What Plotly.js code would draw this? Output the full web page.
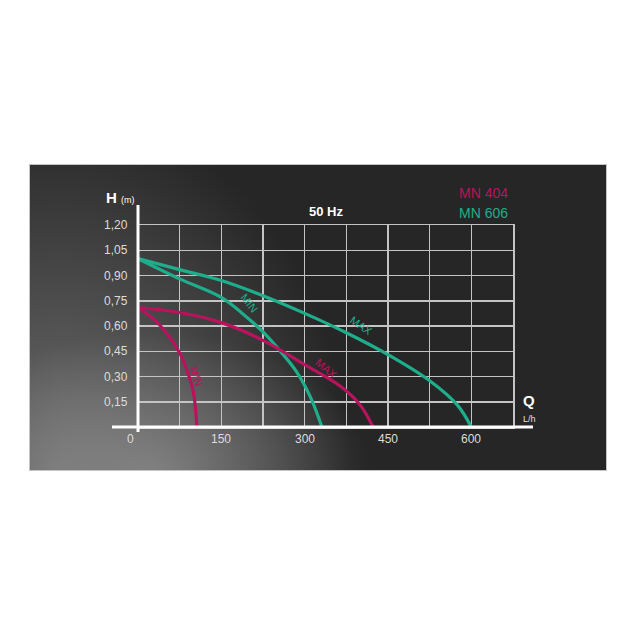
<!DOCTYPE html>
<html>
<head>
<meta charset="utf-8">
<script src="https://cdn.plot.ly/plotly-3.0.1.min.js"></script>
<style>
  html, body { margin: 0; padding: 0; background: #ffffff; }
  #wrap { position: relative; width: 636px; height: 636px; }
  #bg {
    position: absolute; left: 29px; top: 164px; width: 578px; height: 307px;
    background:
      radial-gradient(ellipse 220px 140px at 120px 307px, rgba(150,150,150,0.65) 0%, rgba(150,150,150,0) 100%),
      radial-gradient(ellipse 290px 360px at 30px 307px, #707070 0%, #474747 55%, #262626 100%);
    background-color: #262626;
    border: 1px solid #c4c4c4;
    box-sizing: border-box;
  }
  #chart { position: absolute; left: 0; top: 0; width: 636px; height: 636px; }
</style>
</head>
<body>
<div id="wrap">
  <div id="bg"></div>
  <div id="chart"></div>
</div>
<script>
// ---- data ----
const xGrid = [0, 75, 150, 225, 300, 375, 450, 525, 600, 675];
const xTickVals = [0, 150, 300, 450, 600];
const xTickText = ['0', '150', '300', '450', '600'];
const yTickVals = [0.15, 0.30, 0.45, 0.60, 0.75, 0.90, 1.05, 1.20];
const yTickText = ['0,15', '0,30', '0,45', '0,60', '0,75', '0,90', '1,05', '1,20'];

const q606max = [0, 75, 150, 225, 300, 375, 450, 525, 575, 600];
const h606max = [1.00, 0.935, 0.87, 0.78, 0.675, 0.56, 0.43, 0.275, 0.13, 0];
const q606min = [0, 75, 150, 200, 225, 255, 285, 310, 331];
const h606min = [1.00, 0.88, 0.77, 0.64, 0.565, 0.455, 0.33, 0.18, 0];
const q404max = [0, 75, 150, 225, 300, 365, 400, 423];
const h404max = [0.71, 0.68, 0.62, 0.515, 0.37, 0.24, 0.13, 0];
const q404min = [0, 25, 50, 75, 90, 100, 106];
const h404min = [0.71, 0.65, 0.565, 0.44, 0.32, 0.2, 0];

const TEAL = '#1fae8c';
const MAGENTA = '#b8145e';
const FONT = 'Liberation Sans, Arial, sans-serif';

const traces = [
  {x: q606max, y: h606max, name: 'MN 606 MAX', color: TEAL},
  {x: q606min, y: h606min, name: 'MN 606 MIN', color: TEAL},
  {x: q404max, y: h404max, name: 'MN 404 MAX', color: MAGENTA},
  {x: q404min, y: h404min, name: 'MN 404 MIN', color: MAGENTA}
].map(t => ({
  type: 'scatter', mode: 'lines', x: t.x, y: t.y, name: t.name,
  line: {color: t.color, width: 3.2, shape: 'spline', smoothing: 1},
  hoverinfo: 'skip', showlegend: false
}));

const annotations = [];
yTickVals.forEach((v, i) => annotations.push({
  xref: 'paper', yref: 'y', x: 0, y: v, xanchor: 'right', yanchor: 'middle',
  xshift: -8, text: yTickText[i], showarrow: false,
  font: {family: FONT, size: 12, color: '#dcdcdc'}
}));
xTickVals.forEach((v, i) => annotations.push({
  xref: 'x', yref: 'paper', x: v, y: 0, xanchor: 'center', yanchor: 'top',
  yshift: -3, xshift: v === 0 ? -8 : 0, text: xTickText[i], showarrow: false,
  font: {family: FONT, size: 12, color: '#dcdcdc'}
}));
// axis titles, chart title, legend labels
annotations.push(
  {xref: 'paper', yref: 'paper', x: -0.09, y: 1.135, xanchor: 'left', yanchor: 'middle',
   text: '<b>H</b> <span style="font-size:9px">(m)</span>', showarrow: false,
   font: {family: FONT, size: 15, color: '#ffffff'}},
  {xref: 'paper', yref: 'paper', x: 1.02, y: 0.13, xanchor: 'left', yanchor: 'middle',
   text: '<b>Q</b>', showarrow: false, font: {family: FONT, size: 15, color: '#ffffff'}},
  {xref: 'paper', yref: 'paper', x: 1.02, y: 0.04, xanchor: 'left', yanchor: 'middle',
   text: 'L/h', showarrow: false, font: {family: FONT, size: 9, color: '#e0e0e0'}},
  {xref: 'paper', yref: 'paper', x: 0.5, y: 1.065, xanchor: 'center', yanchor: 'middle',
   text: '<b>50 Hz</b>', showarrow: false, font: {family: FONT, size: 13, color: '#ffffff'}},
  {xref: 'paper', yref: 'paper', x: 0.851, y: 1.158, xanchor: 'left', yanchor: 'middle',
   text: 'MN 404', showarrow: false, font: {family: FONT, size: 14, color: MAGENTA}},
  {xref: 'paper', yref: 'paper', x: 0.851, y: 1.059, xanchor: 'left', yanchor: 'middle',
   text: 'MN 606', showarrow: false, font: {family: FONT, size: 14, color: TEAL}},
  // curve labels
  {x: 200, y: 0.735, text: 'MIN', textangle: 52, showarrow: false,
   font: {family: FONT, size: 11, color: TEAL}},
  {x: 403, y: 0.60, text: 'MAX', textangle: 35, showarrow: false,
   font: {family: FONT, size: 11, color: TEAL}},
  {x: 340, y: 0.345, text: 'MAX', textangle: 40, showarrow: false,
   font: {family: FONT, size: 11, color: MAGENTA}},
  {x: 107, y: 0.30, text: 'MIN', textangle: 72, showarrow: false,
   font: {family: FONT, size: 11, color: MAGENTA}}
);

const GRID = '#c4c4c4';
const shapes = [
  // white axis lines (extend beyond grid)
  {type: 'line', xref: 'paper', yref: 'paper', x0: -0.0693, x1: 1.0533, y0: 0, y1: 0,
   line: {color: '#ffffff', width: 3}, layer: 'above'},
  {type: 'line', xref: 'paper', yref: 'paper', x0: 0, x1: 0, y0: -0.025, y1: 1.099,
   line: {color: '#ffffff', width: 3}, layer: 'above'}
];

const layout = {
  width: 636, height: 636,
  margin: {l: 138, r: 123, t: 225, b: 209, pad: 0},
  paper_bgcolor: 'rgba(0,0,0,0)', plot_bgcolor: 'rgba(0,0,0,0)',
  xaxis: {range: [0, 675], tickvals: xGrid, showticklabels: false, ticks: '',
          showgrid: true, gridcolor: GRID, gridwidth: 1.5, zeroline: false,
          showline: true, mirror: true, linecolor: GRID, linewidth: 1.5, fixedrange: true},
  yaxis: {range: [0, 1.2], tickvals: [0].concat(yTickVals), showticklabels: false, ticks: '',
          showgrid: true, gridcolor: GRID, gridwidth: 1.5, zeroline: false,
          showline: true, mirror: true, linecolor: GRID, linewidth: 1.5, fixedrange: true},
  annotations: annotations,
  shapes: shapes,
  showlegend: false
};

Plotly.newPlot('chart', traces, layout, {displayModeBar: false, staticPlot: true});
</script>
</body>
</html>
